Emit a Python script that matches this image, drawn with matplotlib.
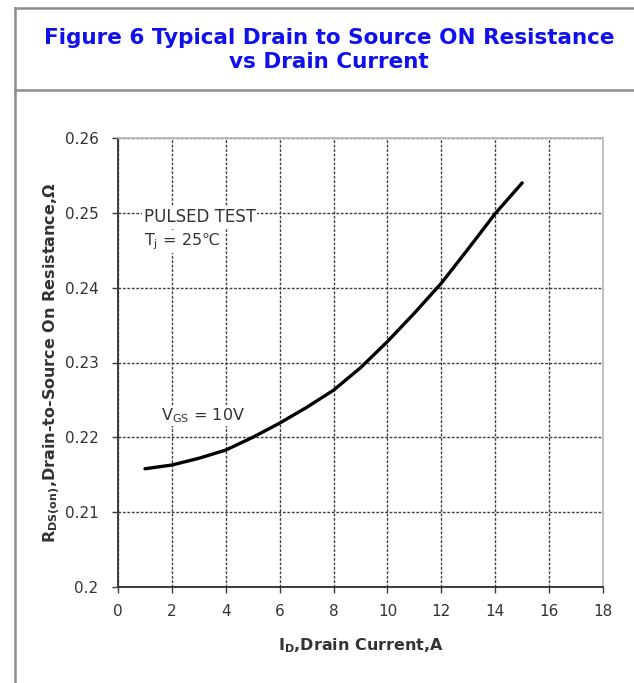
import matplotlib
matplotlib.use('Agg')
import matplotlib.pyplot as plt
from matplotlib.lines import Line2D

plt.rcParams['font.family'] = ['DejaVu Sans']
plt.rcParams['mathtext.fontset'] = 'dejavusans'

# drain current (A) and on-resistance (ohm)
drain_current = [1, 2, 3, 4, 5, 6, 7, 8, 9, 10, 11, 12, 13, 14, 15]
r_ds_on = [0.2158, 0.2163, 0.2172, 0.2183, 0.2200, 0.2219, 0.2240, 0.2263,
           0.2293, 0.2328, 0.2366, 0.2406, 0.2452, 0.2499, 0.2540]

x_ticks = [0, 2, 4, 6, 8, 10, 12, 14, 16, 18]
y_ticks = [0.2, 0.21, 0.22, 0.23, 0.24, 0.25, 0.26]
y_tick_labels = ['0.2', '0.21', '0.22', '0.23', '0.24', '0.25', '0.26']

title = 'Figure 6 Typical Drain to Source ON Resistance\nvs Drain Current'

W, H = 634, 683
fig = plt.figure(figsize=(W / 100, H / 100), dpi=100)
fig.patch.set_facecolor('white')

# outer frame of the datasheet box
frame_color = '#8c8c8c'
for xs, ys in [([15, W], [8, 8]), ([15, 15], [8, H]), ([15, W], [90, 90])]:
    fig.add_artist(Line2D([x / W for x in xs], [1 - y / H for y in ys],
                          color=frame_color, lw=1.8, transform=fig.transFigure))

fig.text(329 / W, 1 - 50 / H, title, ha='center', va='center', color='#1010ee',
         fontsize=15.5, fontweight='bold', linespacing=1.3)

ax = fig.add_axes([118 / W, 1 - 587 / H, (603 - 118) / W, (587 - 138) / H])
ax.plot(drain_current, r_ds_on, color='black', lw=2.4, solid_capstyle='round', zorder=3)

ax.set_xlim(0, 18)
ax.set_ylim(0.2, 0.26)
ax.set_xticks(x_ticks)
ax.set_yticks(y_ticks)
ax.set_yticklabels(y_tick_labels)
ax.grid(True, color='#404040', ls=(0, (2, 1.2)), lw=1.0)

for side in ['left', 'bottom']:
    ax.spines[side].set_color('#3a3a3a')
    ax.spines[side].set_linewidth(1.4)
for side in ['top', 'right']:
    ax.spines[side].set_color('#b8b8b8')
    ax.spines[side].set_linewidth(1.2)

ax.tick_params(axis='both', colors='#3a3a3a', labelcolor='#333333', labelsize=11,
               length=4, width=1)
ax.tick_params(axis='x', pad=8)
ax.tick_params(axis='y', pad=10)

ax.set_xlabel(r'I$_\mathregular{D}$,Drain Current,A', fontsize=11.5, fontweight='bold',
              color='#333333', labelpad=13)
ax.set_ylabel(r'R$_\mathregular{DS(on)}$,Drain-to-Source On Resistance,Ω',
              fontsize=11.5, fontweight='bold', color='#333333', labelpad=1)

bbox = dict(facecolor='white', edgecolor='none', pad=1)
ax.text(0.95, 0.2494, 'PULSED TEST', fontsize=12, color='#333333', va='center', bbox=bbox)
ax.text(0.95, 0.2462, r'T$_\mathregular{j}$ = 25℃', fontsize=11.5, color='#333333',
        va='center', bbox=bbox)
ax.text(1.6, 0.2229, r'V$_\mathregular{GS}$ = 10V', fontsize=11.5, color='#333333',
        va='center', bbox=bbox)

fig.savefig('out.png', dpi=100)
